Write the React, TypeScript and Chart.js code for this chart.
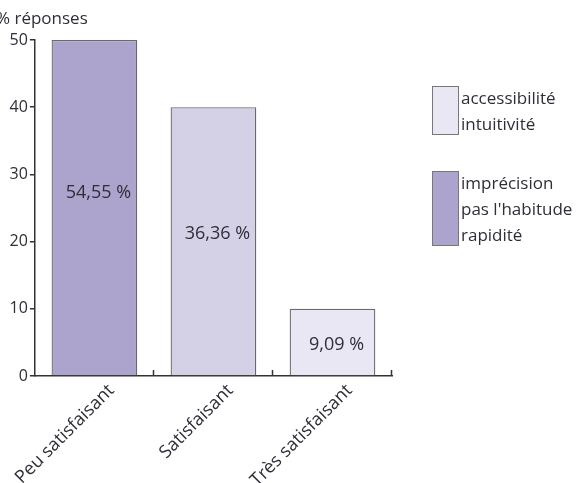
import React, { useEffect, useRef } from "react";
import { Chart, registerables } from "chart.js";

Chart.register(...registerables);

const categories = ["Peu satisfaisant", "Satisfaisant", "Très satisfaisant"];
const values = [50, 40, 10];
const percentLabels = ["54,55 %", "36,36 %", "9,09 %"];
const yTicks = [0, 10, 20, 30, 40, 50];
const legendGroups = [
  ["accessibilité", "intuitivité"],
  ["imprécision", "pas l'habitude", "rapidité"],
];
const yAxisTitle = "% réponses";

const barColors = ["#aca4cc", "#d4d1e7", "#e9e7f3"];
const legendColors = ["#e9e7f3", "#aca4cc"];
const FONT = "'Open Sans', 'Noto Sans', sans-serif";
const TEXT = "#2e2e38";

const overlayPlugin = {
  id: "overlay",
  afterDraw(chart: any) {
    const ctx = chart.ctx;
    const x = chart.scales.x;
    const y = chart.scales.y;
    const area = chart.chartArea;
    ctx.save();
    // upward tick marks on x axis at category boundaries
    ctx.strokeStyle = "#333";
    ctx.lineWidth = 1.5;
    const half = (x.getPixelForValue(1) - x.getPixelForValue(0)) / 2;
    for (let i = 0; i < categories.length; i++) {
      const px = Math.round(x.getPixelForValue(i) + half) - 0.5;
      ctx.beginPath();
      ctx.moveTo(px, area.bottom);
      ctx.lineTo(px, area.bottom - 6);
      ctx.stroke();
    }
    // value labels inside bars
    const labelFrac = [0.55, 0.535, 0.49];
    ctx.fillStyle = TEXT;
    ctx.font = `18px ${FONT}`;
    ctx.textAlign = "center";
    ctx.textBaseline = "middle";
    const meta = chart.getDatasetMeta(0);
    meta.data.forEach((bar: any, i: number) => {
      const py = y.getPixelForValue(values[i] * labelFrac[i]) + 2;
      ctx.fillText(percentLabels[i], bar.x + 4, py);
    });
    // axis title
    ctx.textAlign = "left";
    ctx.textBaseline = "alphabetic";
    ctx.font = `17px ${FONT}`;
    ctx.fillText(yAxisTitle, -4, 24);
    // legend
    const lx = 432;
    const boxes = [
      { top: 86, h: 48 },
      { top: 171, h: 74 },
    ];
    ctx.font = `17px ${FONT}`;
    legendGroups.forEach((lines, gi) => {
      const b = boxes[gi];
      ctx.fillStyle = legendColors[gi];
      ctx.fillRect(lx, b.top, 26, b.h);
      ctx.strokeStyle = "#777";
      ctx.lineWidth = 1;
      ctx.strokeRect(lx + 0.5, b.top + 0.5, 26, b.h);
      ctx.fillStyle = TEXT;
      lines.forEach((t, li) => {
        ctx.fillText(t, 461, b.top + 18 + li * 26);
      });
    });
    ctx.restore();
  },
};

export default function App() {
  const ref = useRef<HTMLCanvasElement>(null);
  useEffect(() => {
    if (!ref.current) return;
    const chart = new Chart(ref.current, {
      type: "bar",
      data: {
        labels: categories,
        datasets: [
          {
            data: values,
            backgroundColor: barColors,
            borderColor: "#6a6a6a",
            borderWidth: 1.3,
            barPercentage: 0.72,
            categoryPercentage: 1,
          },
        ],
      },
      options: {
        animation: false,
        responsive: false,
        layout: { padding: { top: 40, right: 190, left: 0, bottom: 0 } },
        plugins: { legend: { display: false }, tooltip: { enabled: false } },
        scales: {
          x: {
            grid: { display: false },
            border: { display: true, color: "#333", width: 1.5 },
            ticks: {
              color: TEXT,
              font: { family: FONT, size: 18 },
              maxRotation: 45,
              minRotation: 45,
              labelOffset: 17,
              padding: -4,
            },
            afterFit(scale: any) {
              scale.height = 107;
            },
          },
          y: {
            min: 0,
            max: 50,
            afterBuildTicks(scale: any) {
              scale.ticks = yTicks.map((v) => ({ value: v }));
            },
            grid: {
              drawOnChartArea: false,
              drawTicks: true,
              tickLength: 5,
              color: "#333",
              lineWidth: 1.5,
            },
            border: { display: true, color: "#333", width: 1.5 },
            ticks: {
              color: TEXT,
              font: { family: FONT, size: 16 },
              padding: 2,
            },
            afterFit(scale: any) {
              scale.width = 33;
            },
          },
        },
      },
      plugins: [overlayPlugin],
    });
    return () => chart.destroy();
  }, []);
  return (
    <div style={{ position: "absolute", left: 0, top: 0, width: 582, height: 483, background: "#fff" }}>
      <canvas ref={ref} width={582} height={483} style={{ width: 582, height: 483 }} />
    </div>
  );
}
